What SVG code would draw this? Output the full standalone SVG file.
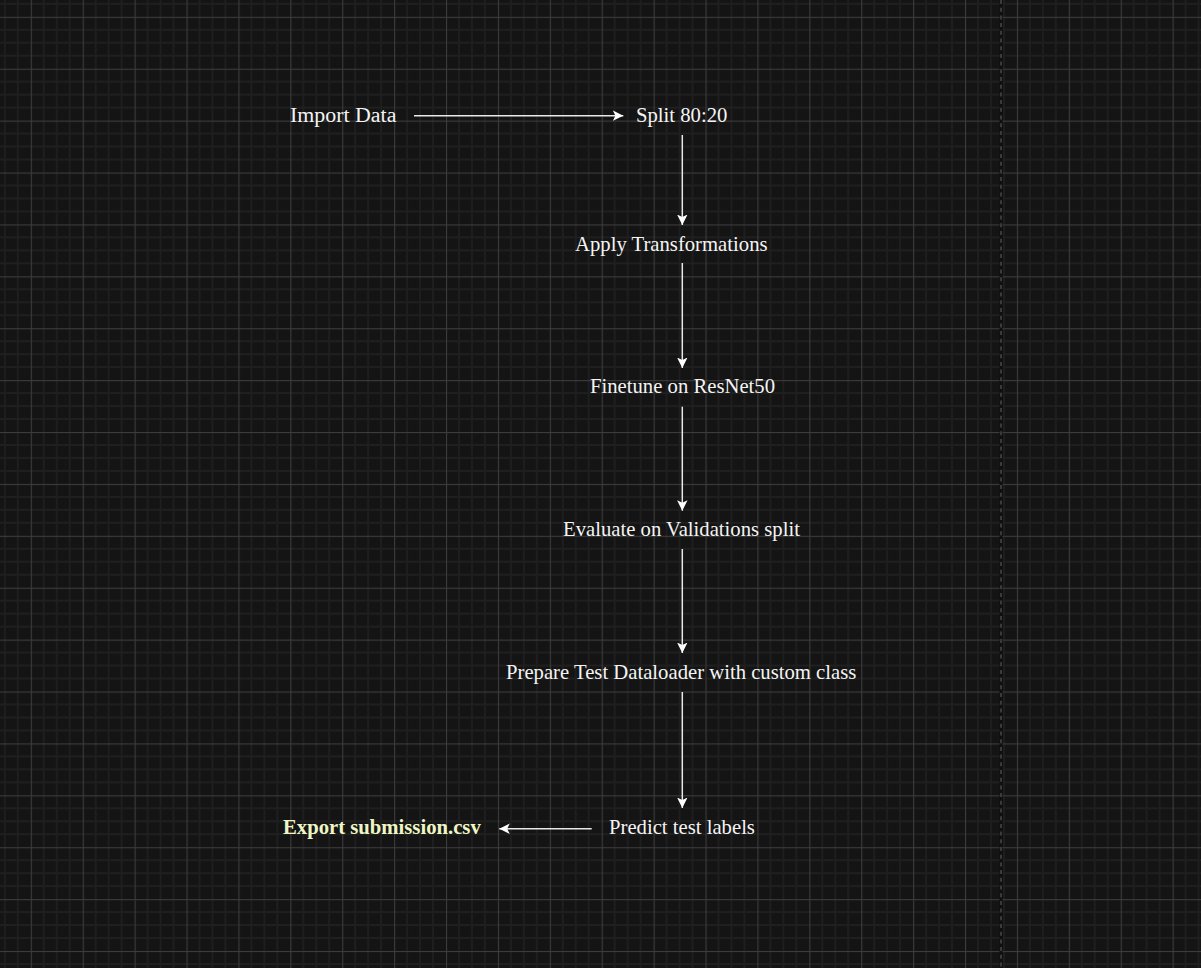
<svg xmlns="http://www.w3.org/2000/svg" width="1201" height="968" viewBox="0 0 1201 968">
<style>
  .lbl { font-family: "Liberation Serif", "Times New Roman", serif; font-size: 20.7px; fill: #f4f4f4; }
  .big { font-size: 21.9px; }
  .bold { font-weight: bold; fill: #eef6c4; }
  .edge { stroke: #e8e8e8; stroke-width: 1.5; fill: none; marker-end: url(#arrow); }
</style>
<defs>
  <pattern id="grid" patternUnits="userSpaceOnUse" x="30.8" y="16.8" width="51.9" height="51.9">
    <rect width="51.9" height="51.9" fill="#141414"/>
    <g stroke="#1f1f1f" stroke-width="1.8">
      <line x1="12.975" y1="0" x2="12.975" y2="51.9"/>
      <line x1="25.95" y1="0" x2="25.95" y2="51.9"/>
      <line x1="38.925" y1="0" x2="38.925" y2="51.9"/>
      <line x1="0" y1="12.975" x2="51.9" y2="12.975"/>
      <line x1="0" y1="25.95" x2="51.9" y2="25.95"/>
      <line x1="0" y1="38.925" x2="51.9" y2="38.925"/>
    </g>
    <g fill="#3c3c3c">
      <rect x="0" y="0" width="1.1" height="51.9"/>
      <rect x="0" y="0" width="51.9" height="1.1"/>
    </g>
  </pattern>
  <marker id="arrow" markerUnits="userSpaceOnUse" markerWidth="12" markerHeight="12" refX="10.5" refY="5.25" orient="auto">
    <path d="M0,0 L10.5,5.25 L0,10.5 L2.6,5.25 Z" fill="#ffffff"/>
  </marker>
</defs>
<rect width="1201" height="968" fill="url(#grid)"/>
<line x1="1001" y1="0" x2="1001" y2="968" stroke="#0f0f0f" stroke-width="3"/>
<line x1="1001" y1="0" x2="1001" y2="968" stroke="#4a4a4a" stroke-width="1.5" stroke-dasharray="4 3.7"/>

<g id="connectors">
  <line class="edge" x1="414" y1="115.7" x2="623.3" y2="115.7"/>
  <line class="edge" x1="682.3" y1="135" x2="682.3" y2="225"/>
  <line class="edge" x1="682.3" y1="263" x2="682.3" y2="368"/>
  <line class="edge" x1="682.3" y1="406.7" x2="682.3" y2="510.7"/>
  <line class="edge" x1="682.3" y1="549" x2="682.3" y2="653"/>
  <line class="edge" x1="682.3" y1="692" x2="682.3" y2="808"/>
  <line class="edge" x1="591.7" y1="828.7" x2="499.3" y2="828.7"/>
</g>

<g id="node-import"><text class="lbl big" x="290" y="122">Import Data</text></g>
<g id="node-split"><text class="lbl" x="636" y="122">Split 80:20</text></g>
<g id="node-transform"><text class="lbl" x="575" y="251">Apply Transformations</text></g>
<g id="node-finetune"><text class="lbl" x="590" y="393">Finetune on ResNet50</text></g>
<g id="node-evaluate"><text class="lbl" x="563" y="536">Evaluate on Validations split</text></g>
<g id="node-prepare"><text class="lbl" x="506" y="679">Prepare Test Dataloader with custom class</text></g>
<g id="node-predict"><text class="lbl" x="609" y="834">Predict test labels</text></g>
<g id="node-export"><text class="lbl bold" x="283" y="834">Export submission.csv</text></g>
</svg>
